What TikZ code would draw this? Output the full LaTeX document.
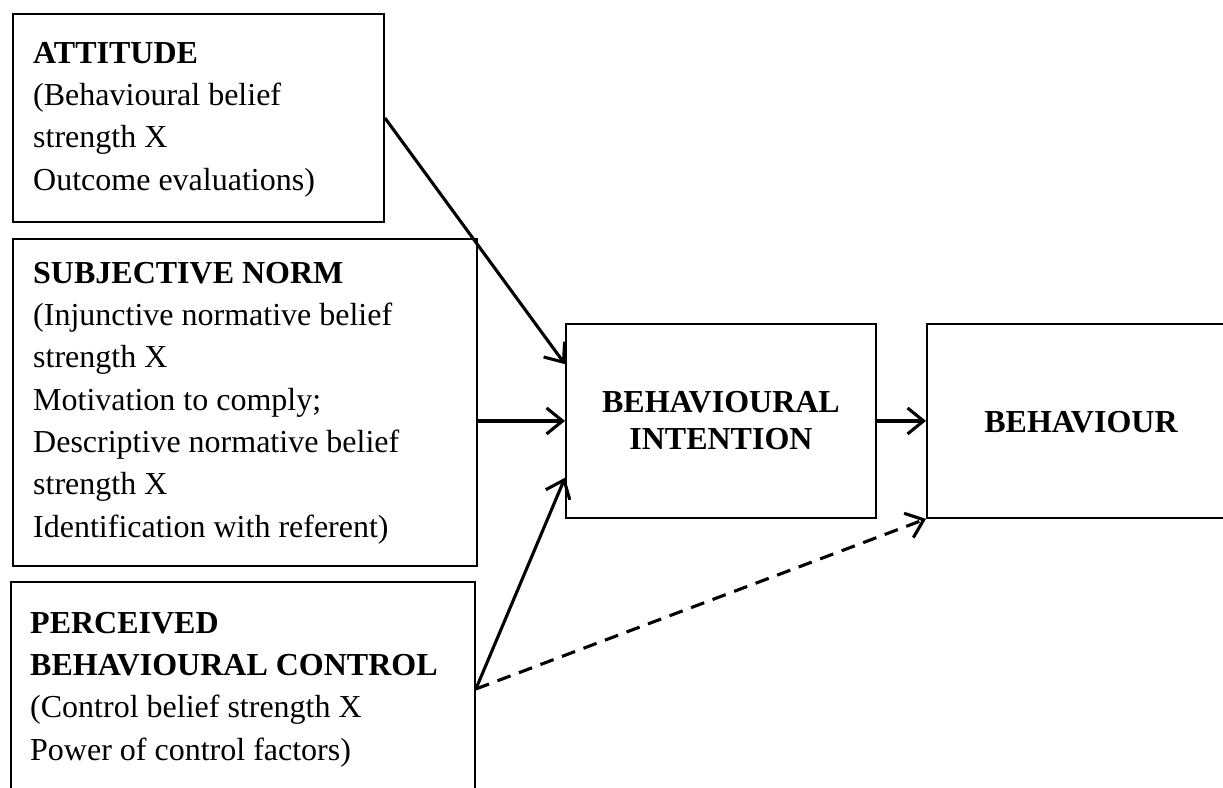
\documentclass[tikz,border=0pt]{standalone}
\usepackage{fontspec}
\setmainfont{Liberation Serif}
\usetikzlibrary{arrows.meta,calc}
\begin{document}
\begin{tikzpicture}[x=1pt,y=-1pt,
  box/.style={draw, line width=1.9pt, inner sep=0pt, anchor=north west},
  txt/.style={anchor=north west, inner sep=0pt, align=left, font=\fontsize{32}{42.3}\selectfont},
  ctxt/.style={inner sep=0pt, align=center, font=\bfseries\fontsize{32}{37}\selectfont},
  arr/.style={line width=3.1pt, -{Straight Barb[length=16pt,width=26pt,line width=3.1pt]}}]
\useasboundingbox (0,0) rectangle (1223,787);
\clip (0,0) rectangle (1223,787);
\node[box, minimum width=371pt, minimum height=208pt] (att) at (12,13) {};
\node[box, minimum width=464pt, minimum height=327pt] (sn) at (12,238) {};
\node[box, minimum width=464pt, minimum height=214pt] (pbc) at (10,581) {};
\node[box, minimum width=310pt, minimum height=194pt] (bi) at (565,323) {};
\node[box, minimum width=324pt, minimum height=194pt] (beh) at (926,323) {};
\node[txt] (attT) at (33,39) {\rule{0pt}{24pt}\textbf{ATTITUDE}\\(Behavioural belief\\strength X\\Outcome evaluations)};
\node[txt] (snT) at (33,259) {\rule{0pt}{24pt}\textbf{SUBJECTIVE NORM}\\(Injunctive normative belief\\strength X\\Motivation to comply;\\Descriptive normative belief\\strength X\\Identification with referent)};
\node[txt] (pbcT) at (30,609) {\rule{0pt}{24pt}\textbf{PERCEIVED}\\\textbf{BEHAVIOURAL CONTROL}\\(Control belief strength X\\Power of control factors)};
\node[ctxt] (biT) at (bi.center) {BEHAVIOURAL\\INTENTION};
\node[ctxt] (behT) at (1081,422) {BEHAVIOUR};
\draw[arr] (att.east) -- (bi.160);
\draw[arr] (bi.west -| sn.east) -- (bi.west);
\draw[arr] (pbc.east) -- (bi.200);
\draw[arr] (bi.east) -- (beh.west);
\draw[arr, dash pattern=on 14pt off 9pt] (pbc.east) -- (beh.south west);
\end{tikzpicture}
\end{document}
